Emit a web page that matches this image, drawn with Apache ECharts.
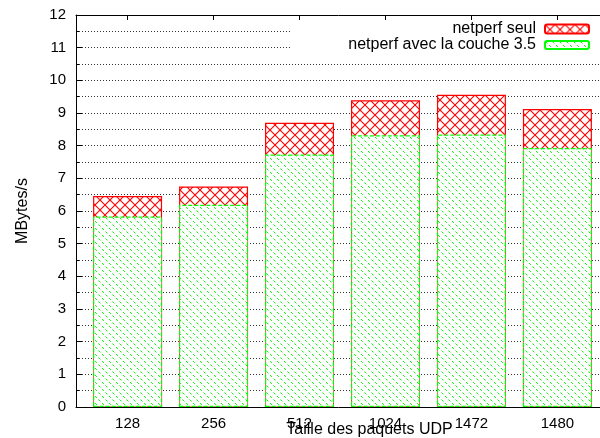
<!DOCTYPE html>
<html>
<head>
<meta charset="utf-8">
<style>
  html, body { margin: 0; padding: 0; background: #fff; }
  #chart { width: 600px; height: 438px; }
</style>
<script src="https://cdn.jsdelivr.net/npm/echarts@6/dist/echarts.min.js"></script>
</head>
<body>
<div id="chart"></div>
<script>
// UDP packet sizes and measured throughput (MBytes/s)
const categories = ['128', '256', '512', '1024', '1472', '1480'];
const netperfSeul = [6.46, 6.75, 8.70, 9.39, 9.56, 9.12];
const netperfCouche = [5.83, 6.19, 7.73, 8.32, 8.34, 7.93];
const seriesNames = ['netperf seul', 'netperf avec la couche 3.5'];

const FONT = 'Liberation Sans, Arial, Helvetica, sans-serif';

// Red crosshatch fill on white
function crossHatch() {
  const c = document.createElement('canvas');
  c.width = 10; c.height = 10;
  const g = c.getContext('2d');
  g.fillStyle = '#fff';
  g.fillRect(0, 0, 10, 10);
  g.strokeStyle = '#ff0000';
  g.lineWidth = 1.1;
  g.beginPath();
  g.moveTo(-1, -1); g.lineTo(11, 11);
  g.moveTo(11, -1); g.lineTo(-1, 11);
  g.stroke();
  return c;
}

// Green dashed "\" hatch fill on white
function diagHatch() {
  const s = 7;
  const c = document.createElement('canvas');
  c.width = s; c.height = s;
  const g = c.getContext('2d');
  g.fillStyle = '#fff';
  g.fillRect(0, 0, s, s);
  g.strokeStyle = '#00ff00';
  g.lineWidth = 1;
  g.beginPath();
  g.moveTo(0.5, 0.5); g.lineTo(2.4, 2.4);
  g.moveTo(4.0, 4.0); g.lineTo(5.9, 5.9);
  g.stroke();
  return c;
}

const idx = categories.map((_, i) => i);
const chart = echarts.init(document.getElementById('chart'), null, { renderer: 'canvas' });

const dotted = { color: '#333', width: 1, type: [1, 2] };

chart.setOption({
  animation: false,
  backgroundColor: '#fff',
  textStyle: { fontFamily: FONT },
  grid: { left: 76, right: -9, top: 15, bottom: 31, containLabel: false, outerBoundsMode: 'none' },
  xAxis: [
    {
      type: 'value', position: 'bottom', min: -0.6, max: 5.6,
      name: 'Taille des paquets UDP', nameLocation: 'middle', nameGap: 15, nameMoveOverlap: false,
      nameTextStyle: { fontFamily: FONT, fontSize: 16, color: '#000', padding: [0, 0, 0, 54] },
      axisLine: { onZero: false, lineStyle: { color: '#000', width: 1 } },
      axisTick: { inside: true, length: 6, customValues: idx, lineStyle: { color: '#000' } },
      axisLabel: {
        customValues: idx, margin: 9, fontSize: 15, color: '#000', fontFamily: FONT,
        formatter: v => categories[Math.round(v)]
      },
      splitLine: { show: false }
    },
    {
      type: 'value', position: 'top', min: -0.6, max: 5.6,
      axisLine: { onZero: false, lineStyle: { color: '#000', width: 1 } },
      axisTick: { inside: true, length: 5, customValues: idx, lineStyle: { color: '#000' } },
      axisLabel: { show: false },
      splitLine: { show: false }
    }
  ],
  yAxis: {
    type: 'value', min: 0, max: 12, interval: 1,
    name: 'MBytes/s', nameLocation: 'middle', nameGap: 45, nameMoveOverlap: false,
    nameTextStyle: { fontFamily: FONT, fontSize: 16, color: '#000' },
    axisLine: { show: true, onZero: false, lineStyle: { color: '#000', width: 1 } },
    axisTick: { show: true, inside: true, length: 6, lineStyle: { color: '#000' } },
    minorTick: { show: true, splitNumber: 2, length: 3, lineStyle: { color: '#000' } },
    axisLabel: { margin: 10, fontSize: 15, color: '#000', fontFamily: FONT },
    splitLine: { show: true, lineStyle: dotted },
    minorSplitLine: { show: true, lineStyle: dotted }
  },
  graphic: [{
    type: 'rect', z: 3, silent: true,
    shape: { x: 290, y: 20, width: 320, height: 36 },
    style: { fill: '#fff' }
  }],
  legend: [
    {
      data: [seriesNames[0]], right: 10, top: 21, align: 'right', padding: 0,
      itemWidth: 44, itemHeight: 9, selectedMode: false, z: 5,
      textStyle: { fontSize: 16, color: '#000', fontFamily: FONT, lineHeight: 15, padding: [0, 4, 0, 0] }
    },
    {
      data: [seriesNames[1]], right: 10, top: 37, align: 'right', padding: 0,
      itemWidth: 44, itemHeight: 8, selectedMode: false, z: 5,
      textStyle: { fontSize: 16, color: '#000', fontFamily: FONT, lineHeight: 15, padding: [0, 4, 0, 0] }
    }
  ],
  series: [
    {
      name: seriesNames[0], type: 'bar', xAxisIndex: 0,
      barWidth: 69, barGap: '-100%',
      data: netperfSeul.map((v, i) => [i, v]),
      itemStyle: {
        color: { image: crossHatch(), repeat: 'repeat' },
        borderColor: '#ff0000', borderWidth: 1.2
      }
    },
    {
      name: seriesNames[1], type: 'bar', xAxisIndex: 0,
      barWidth: 69, barGap: '-100%',
      data: netperfCouche.map((v, i) => [i, v]),
      itemStyle: {
        color: { image: diagHatch(), repeat: 'repeat' },
        borderColor: '#00ff00', borderWidth: 1.2, borderType: [4, 2]
      }
    }
  ]
});
</script>
</body>
</html>
